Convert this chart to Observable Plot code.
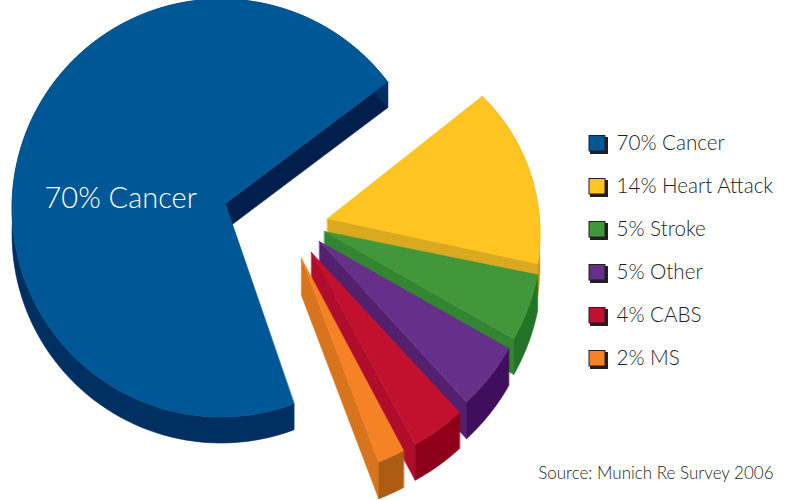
<!DOCTYPE html>
<html>
<head>
<meta charset="utf-8">
<style>
  html, body { margin: 0; padding: 0; background: #fff; }
  svg { display: block; }
</style>
<script src="https://cdn.jsdelivr.net/npm/d3@7"></script>
<script src="https://cdn.jsdelivr.net/npm/@observablehq/plot@0.6"></script>
</head>
<body>
<script>
// Survey shares, largest first
const causes = ["Cancer", "Heart Attack", "Stroke", "Other", "CABS", "MS"];
const shares = [70, 14, 5, 5, 4, 2];

// Colours for the top face, radial wall and outer wall of each slice
const faceColors = ["#005795", "#fec421", "#41973a", "#662f8a", "#c1112f", "#f58225"];
const sideColors = ["#001f4c", "#d9a91f", "#348532", "#53206e", "#b00d2c", "#d8741e"];
const rimColors  = ["#002f62", "#c99a1a", "#247428", "#3f0e5c", "#8e001a", "#ac5d13"];

// Layout of the exploded pie: tip of each slice, bearing its sweep begins at,
// wall height, and the circle its rim follows (offset from the tip, radius)
const tipX = [225, 327, 324, 319, 311, 301];
const tipY = [203, 218, 231, 241, 252, 258];
const startDeg = [-36.9, -38.3, 11.5, 29.5, 47.2, 62];
const wallH = [26, 33, 36, 37, 36, 37];
const rimDx = [-4.5, 21, 0, 0, 0, 0];
const rimDy = [4.5, 15, 0, 0, 0, 0];
const rimR = [209, 191.5, 217.5, 217.5, 218, 217.5];

const rad = Math.PI / 180;

// Distance from a slice tip to its rim along a bearing
function rimAt(i, deg) {
  const ux = Math.cos(deg * rad), uy = Math.sin(deg * rad);
  const d = rimDx[i] * ux + rimDy[i] * uy;
  return d + Math.sqrt(rimR[i] ** 2 - rimDx[i] ** 2 - rimDy[i] ** 2 + d * d);
}

// Rim outline of a slice; the largest slice sweeps the other way round
function rimPoints(i) {
  const sweep = shares[i] * 3.6 * (i === 0 ? -1 : 1);
  return d3.range(0, 121).map(k => {
    const deg = startDeg[i] + sweep * k / 120;
    const r = rimAt(i, deg);
    return [tipX[i] + r * Math.cos(deg * rad), tipY[i] + r * Math.sin(deg * rad)];
  });
}

function polygon(points, color) {
  return Plot.line(points, {
    x: p => p[0], y: p => p[1],
    curve: "linear-closed",
    fill: color, stroke: color, strokeWidth: 0.6
  });
}

function sliceMarks(i) {
  const rim = rimPoints(i);
  const h = wallH[i];
  const down = p => [p[0], p[1] + h];
  const tip = [tipX[i], tipY[i]];
  // the largest slice shows the wall along its first edge, the others along their last
  const edge = i === 0 ? rim[0] : rim[rim.length - 1];
  return [
    polygon([tip, edge, down(edge), down(tip)], sideColors[i]),
    polygon([...rim, ...rim.slice().reverse().map(down)], rimColors[i]),
    polygon([tip, ...rim], faceColors[i])
  ];
}

const legendRows = causes.map((cause, i) => ({
  label: `${shares[i]}% ${cause}`,
  color: faceColors[i],
  y: 143 + i * 43
}));

const chart = Plot.plot({
  width: 790,
  height: 500,
  margin: 0,
  x: {domain: [0, 790], range: [0, 790], axis: null},
  y: {domain: [0, 500], range: [0, 500], axis: null},
  marks: [
    ...shares.flatMap((_, i) => sliceMarks(i)),
    Plot.text([`${shares[0]}% ${causes[0]}`], {
      x: 44, y: 198, text: d => d, textAnchor: "start",
      fill: "#fff", fontSize: 29, fontFamily: "Lato", fontWeight: 300
    }),
    // legend swatches with a hard shadow
    Plot.rect(legendRows, {
      x1: 590, x2: 608, y1: d => d.y - 6, y2: d => d.y + 11, fill: "#231f20"
    }),
    Plot.rect(legendRows, {
      x1: 589, x2: 605, y1: d => d.y - 7.5, y2: d => d.y + 8,
      fill: d => d.color, stroke: "#231f20", strokeWidth: 1
    }),
    Plot.text(legendRows, {
      x: 616, y: d => d.y, text: "label", textAnchor: "start",
      fill: "#231f20", fontSize: 20.6, fontFamily: "Lato", fontWeight: 300
    }),
    Plot.text(["Source: Munich Re Survey 2006"], {
      x: 773, y: 473, text: d => d, textAnchor: "end",
      fill: "#231f20", fontSize: 17, fontFamily: "Lato", fontWeight: 300
    })
  ]
});
document.body.appendChild(chart);
</script>
</body>
</html>
